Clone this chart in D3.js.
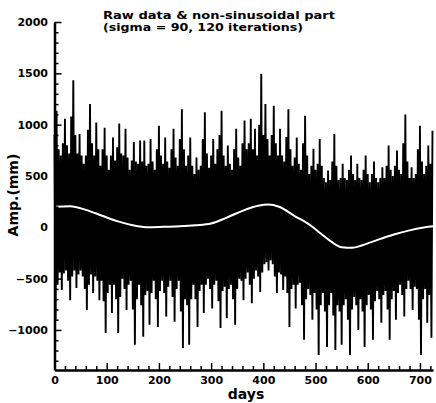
<!DOCTYPE html>
<html><head><meta charset="utf-8">
<script src="https://cdn.jsdelivr.net/npm/d3@7"></script>
<style>
html,body{margin:0;padding:0;background:#fff;}
svg{display:block;}
text{font-family:"DejaVu Sans",sans-serif;font-weight:bold;fill:#000;}
</style></head>
<body>
<svg id="chart" width="436" height="403"></svg>
<script>
// ---- data ----
const titleLines = ["Raw data & non-sinusoidal part", "(sigma = 90, 120 iterations)"];
const xLabel = "days";
const yLabel = "Amp.(mm)";
const xTicks = [0, 100, 200, 300, 400, 500, 600, 700];
const yTicks = [-1000, -500, 0, 500, 1000, 1500, 2000];
const xDomain = [0, 725];
const yDomain = [-1390, 2000];

// raw series: high samples at days 0,4,8,... ; low samples at days 2,6,10,...
const rawStepDays = 4;
const rawHigh = [
 900,1136,760,700,820,1058,800,720,1080,1433,900,720,910,700,620,700,950,1200,820,700,
 1020,760,600,760,970,700,560,700,875,650,780,1010,720,700,960,680,560,650,830,640,
 620,845,640,845,600,620,860,640,560,760,990,700,620,875,640,580,760,960,680,600,
 860,1150,760,600,700,875,600,520,680,560,600,860,1120,720,580,700,860,620,760,900,
 1136,700,600,796,620,560,760,960,680,600,820,1040,760,820,1058,760,960,700,1000,1495,
 900,1200,860,700,900,1184,820,700,960,700,640,880,1150,760,600,680,875,620,560,820,
 1087,700,520,600,765,560,620,860,600,480,440,553,460,640,910,600,460,480,620,480,
 460,560,700,520,460,620,480,460,560,700,520,440,520,640,480,440,480,585,480,600,
 796,560,500,600,748,560,520,820,1100,640,480,585,480,520,760,990,640,520,600,796,
 620,940
];
const rawLow = [
 -900,-560,-440,-610,-450,-420,-520,-710,-480,-420,-590,-460,-420,-480,-600,-805,-560,-460,-640,-480,
 -520,-710,-520,-720,-1030,-640,-560,-835,-560,-700,-1030,-680,-500,-600,-805,-560,-520,-800,-1145,-700,
 -560,-760,-1065,-660,-620,-950,-640,-520,-700,-970,-620,-520,-640,-870,-580,-520,-680,-920,-600,-520,
 -820,-1175,-700,-760,-1145,-700,-560,-700,-970,-620,-560,-835,-560,-500,-600,-790,-560,-520,-720,-980,
 -620,-580,-885,-600,-560,-700,-950,-600,-500,-520,-710,-500,-440,-560,-740,-500,-420,-480,-630,-440,
 -360,-340,-420,-320,-360,-480,-640,-440,-460,-610,-480,-640,-970,-600,-560,-790,-560,-540,-760,-1095,
 -700,-600,-660,-900,-640,-800,-1245,-760,-640,-820,-1165,-760,-640,-860,-1195,-760,-820,-1145,-760,-700,
 -900,-1245,-800,-680,-760,-1000,-700,-820,-1165,-760,-660,-800,-1095,-720,-620,-700,-930,-660,-620,-800,
 -1095,-700,-620,-900,-640,-560,-660,-870,-600,-520,-600,-805,-580,-600,-900,-1245,-700,-600,-930,-660,
 -1075
];

// smooth non-sinusoidal part (white curve)
const trendDays = [0,30,60,90,120,150,180,210,240,270,300,330,360,390,410,430,460,490,510,530,550,570,590,620,650,680,710,725];
const trendVals = [200,205,170,115,60,20,0,5,10,20,38,95,160,210,222,200,110,20,-60,-140,-195,-200,-175,-120,-70,-30,0,10];

// ---- drawing ----
const svg = d3.select("#chart");
const x = d3.scaleLinear().domain(xDomain).range([54.5, 433]);
const y = d3.scaleLinear().domain(yDomain).range([370, 22]);

const raw = [];
for (let k = 0; k < rawHigh.length; k++) {
  raw.push({d: k * rawStepDays, v: rawHigh[k]});
  if (k < rawLow.length) raw.push({d: k * rawStepDays + rawStepDays / 2, v: rawLow[k]});
}

svg.append("path")
  .datum(raw)
  .attr("fill", "none")
  .attr("stroke", "#000")
  .attr("stroke-width", 1.9)
  .attr("stroke-linejoin", "miter")
  .attr("stroke-miterlimit", 2)
  .attr("d", d3.line().x(p => x(p.d)).y(p => y(p.v)));

const trend = trendDays.map((d, i) => ({d, v: trendVals[i]}));
svg.append("path")
  .datum(trend)
  .attr("fill", "none")
  .attr("stroke", "#fff")
  .attr("stroke-width", 2)
  .attr("d", d3.line().curve(d3.curveMonotoneX).x(p => x(p.d)).y(p => y(p.v)));

// axes (ticks pointing inward)
const fmt = d3.format("d");
const xAxis = d3.axisBottom(x).tickValues(xTicks).tickSizeInner(-7).tickSizeOuter(0).tickPadding(6).tickFormat(fmt);
const gx = svg.append("g").attr("transform", "translate(0,370)").call(xAxis);
const xMinor = d3.range(0, 725, 20).filter(v => v % 100 !== 0);
const gxm = svg.append("g").attr("transform", "translate(0,370)")
  .call(d3.axisBottom(x).tickValues(xMinor).tickSizeInner(-4).tickSizeOuter(0).tickFormat(""));
gxm.select(".domain").remove();

const yAxis = d3.axisLeft(y).tickValues(yTicks).tickSizeInner(-7).tickSizeOuter(0).tickPadding(6.5).tickFormat(fmt);
const gy = svg.append("g").attr("transform", "translate(54.5,0)").call(yAxis);
const yMinor = d3.range(-1300, 2000, 100).filter(v => v % 500 !== 0);
const gym = svg.append("g").attr("transform", "translate(54.5,0)")
  .call(d3.axisLeft(y).tickValues(yMinor).tickSizeInner(-4).tickSizeOuter(0).tickFormat(""));
gym.select(".domain").remove();

[gx, gy, gxm, gym].forEach(g => {
  g.selectAll("line").attr("stroke", "#000").attr("stroke-width", 1.5);
  g.selectAll(".domain").attr("stroke", "#000").attr("stroke-width", 2.5);
  g.selectAll("text").attr("font-size", 11).attr("font-family", "DejaVu Sans").attr("font-weight", "bold").attr("fill", "#000");
});

// title
svg.append("text").attr("x", 103).attr("y", 19).attr("font-size", 11)
  .attr("textLength", 232).attr("lengthAdjust", "spacingAndGlyphs").text(titleLines[0]);
svg.append("text").attr("x", 103).attr("y", 31).attr("font-size", 11)
  .attr("textLength", 200).attr("lengthAdjust", "spacingAndGlyphs").text(titleLines[1]);

// axis labels
svg.append("text").attr("x", 246).attr("y", 399).attr("text-anchor", "middle")
  .attr("font-size", 14).text(xLabel);
svg.append("text").attr("transform", "translate(18,195) rotate(-90)").attr("text-anchor", "middle")
  .attr("font-size", 14).text(yLabel);
</script>
</body></html>
